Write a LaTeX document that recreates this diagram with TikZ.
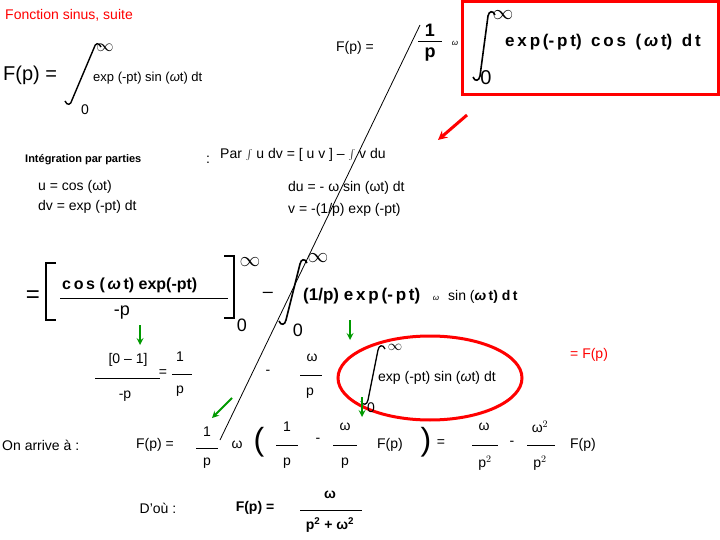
\documentclass[tikz,border=0pt]{standalone}
\usepackage{fontspec}
\setmainfont{Liberation Sans}
\newcommand\myinteg[5]{\draw[line width=#5] ({#1+7},{#2+3}) .. controls ({#1+5},{#2-2}) and ({#1+1},{#2-1}) .. ({#1},{#2+4}) -- ({#3},{#4-4}) .. controls ({#3-1},{#4+1}) and ({#3-5},{#4+2}) .. ({#3-7},{#4-3});}
\begin{document}
\begin{tikzpicture}[x=1pt,y=-1pt,
 t/.style={inner sep=0pt,font=\fontsize{14}{16}\selectfont},
 b/.style={t,font=\fontsize{15}{17}\selectfont\bfseries},
 grn/.style={draw=green!60!black,line width=2pt,-stealth},
 bar/.style={line width=0.6pt}]
\useasboundingbox (0,0) rectangle (720,540);
\node[t,anchor=west,text=red,font=\fontsize{14}{16}\selectfont] (title) at (5,15) {Fonction sinus, suite};
% top left
\node[t,anchor=west,font=\fontsize{20}{22}\selectfont] (f1) at (3,75) {F(p) =};
\myinteg{94}{44}{72}{104}{1.4pt}
\node[t,font=\fontsize{18}{18}\selectfont] (inf1) at (105,48) {$\infty$};
\node[t] (z1) at (85,110) {0};
\node[t,anchor=west,font=\fontsize{13}{15}\selectfont] (e1) at (93,78) {exp (-pt) sin (\textit{ω}t) dt};
% top right
\node[t] (f2) at (355,48) {F(p) =};
\node[b,font=\fontsize{18}{20}\selectfont\bfseries] (n1) at (430,30) {1};
\draw[line width=1pt] (418,42) -- (442,42);
\node[b,font=\fontsize{18}{20}\selectfont\bfseries] (d1) at (430,55) {p};
\node[t,font=\fontsize{8}{8}\selectfont] (w0) at (455,43) {\textit{ω}};
\draw[red,line width=3pt] (462,2) rectangle (718,95);
\myinteg{488}{12}{480}{80}{1.6pt}
\node[t,font=\fontsize{22}{22}\selectfont] (inf2) at (503,15) {$\infty$};
\node[t,font=\fontsize{20}{20}\selectfont] (z2) at (486,78) {0};
\node[b,anchor=west,font=\fontsize{17}{19}\selectfont\bfseries] (e2) at (505,42) {e\,x\,p\,(-\,p\,t)\ \ c\,o\,s\ \ (\,\textit{ω}\,t)\ \ d\,t};
\draw[red,line width=3pt,-stealth] (467,115) -- (438,140);
% integration par parties
\node[t,anchor=west,font=\fontsize{11}{13}\selectfont\bfseries] (ipp) at (25,160) {Intégration par parties};
\node[t] (col) at (208,160) {:};
\node[t,anchor=west,font=\fontsize{14}{16}\selectfont] (par) at (220,155) {Par $\int$ u dv = [ u v ] – $\int$ v du};
\node[t,anchor=west] (u) at (38,187) {u = cos (ωt)};
\node[t,anchor=west] (dv) at (38,207) {dv = exp (-pt) dt};
\node[t,anchor=west] (du) at (288,188) {du = - ω sin (ωt) dt};
\node[t,anchor=west] (v) at (288,210) {v = -(1/p) exp (-pt)};
\coordinate (la) at (420,25); \coordinate (lb) at (220,440);
\draw[line width=0.8pt] (la) -- (lb);
% second line
\node[t,font=\fontsize{24}{24}\selectfont] (eq) at (33,297) {=};
\draw[line width=2pt] (56,263) -- (46,263) -- (46,320) -- (56,320);
\node[b,anchor=west,font=\fontsize{16}{18}\selectfont\bfseries] (c1) at (62,285) {c\,o\,s\ (\,\textit{ω}\,t)\ exp(-pt)};
\draw[line width=0.8pt] (60,298) -- (228,298);
\node[t,font=\fontsize{18}{20}\selectfont] (mp) at (122,313) {-p};
\draw[line width=1.2pt] (224,256) -- (234,256) -- (234,318) -- (224,318);
\node[t,font=\fontsize{22}{22}\selectfont] (inf3) at (250,262) {$\infty$};
\node[t,font=\fontsize{18}{18}\selectfont] (z3) at (242,325) {0};
\node[t,font=\fontsize{18}{18}\selectfont] (mn) at (268,295) {–};
\myinteg{300}{260}{286}{324}{1.6pt}
\node[t,font=\fontsize{22}{22}\selectfont] (inf4) at (318,258) {$\infty$};
\node[t,font=\fontsize{18}{18}\selectfont] (z4) at (298,330) {0};
\node[b,anchor=west,font=\fontsize{17}{19}\selectfont\bfseries] (e3) at (303,296) {(1/p)\ e\,x\,p\,(-\,p\,t)};
\node[t,font=\fontsize{8}{8}\selectfont] (w1) at (436,298) {\textit{ω}};
\node[t,anchor=west,font=\fontsize{14}{16}\selectfont] (e4) at (448,297) {sin (\textbf{\textit{ω}\,t) d\,t}};
\draw[grn] (140,325) -- (140,345);
\draw[grn] (350,320) -- (350,340);
% third line
\node[t] (br) at (128,360) {[0 – 1]};
\draw[bar] (95,378) -- (160,378);
\node[t] (mp2) at (125,396) {-p};
\node[t] (eq2) at (163,373) {=};
\node[t] (one) at (180,357) {1};
\draw[bar] (172,374) -- (192,374);
\node[t] (pp) at (180,391) {p};
\node[t] (mn2) at (268,372) {-};
\node[t] (om) at (312,358) {ω};
\draw[bar] (300,375) -- (322,375);
\node[t] (pp2) at (310,393) {p};
\draw[red,line width=3pt] (430,378) ellipse (92 and 42);
\myinteg{378}{346}{368}{404}{1.3pt}
\node[t,font=\fontsize{15}{15}\selectfont] (inf5) at (395,347) {$\infty$};
\node[t] (z5) at (371,408) {0};
\node[t,anchor=west] (e5) at (378,378) {exp (-pt) sin (\textit{ω}t) dt};
\node[t,text=red,anchor=west] (fp) at (570,355) {= F(p)};
\draw[grn] (232,398) -- (212,418);
\draw[grn] (362,397) -- (362,417);
% fourth line
\node[t,anchor=west] (arr) at (2,445) {On arrive à :};
\node[t] (f3) at (155,445) {F(p) =};
\node[t] (n2) at (207,432) {1}; \draw[bar] (196,448) -- (218,448); \node[t] (d2) at (207,463) {p};
\node[t] (w2) at (237,445) {ω};
\node[t,font=\fontsize{32}{32}\selectfont] (lp) at (259,442) {(};
\node[t] (n3) at (287,427) {1}; \draw[bar] (276,445) -- (298,445); \node[t] (d3) at (287,463) {p};
\node[t] (m3) at (318,440) {-};
\node[t] (n4) at (345,427) {ω}; \draw[bar] (333,445) -- (357,445); \node[t] (d4) at (345,463) {p};
\node[t] (f4) at (390,445) {F(p)};
\node[t,font=\fontsize{32}{32}\selectfont] (rp) at (426,442) {)};
\node[t] (eq3) at (441,443) {=};
\node[t] (n5) at (484,427) {ω}; \draw[bar] (472,445) -- (498,445); \node[t] (d5) at (485,463) {p$^2$};
\node[t] (m5) at (512,443) {-};
\node[t] (n6) at (540,427) {ω$^2$}; \draw[bar] (527,445) -- (555,445); \node[t] (d6) at (540,463) {p$^2$};
\node[t] (f5) at (583,445) {F(p)};
% last
\node[t] (dou) at (158,508) {D'où :};
\node[t,font=\fontsize{14}{16}\selectfont\bfseries] (f6) at (255,508) {F(p) =};
\node[t,font=\fontsize{14}{16}\selectfont\bfseries] (n7) at (330,495) {ω};
\draw[line width=0.9pt] (300,510) -- (362,510);
\node[t,font=\fontsize{14}{16}\selectfont\bfseries] (d7) at (330,525) {p$^{\mathbf 2}$ + ω$^{\mathbf 2}$};
\end{tikzpicture}
\end{document}
